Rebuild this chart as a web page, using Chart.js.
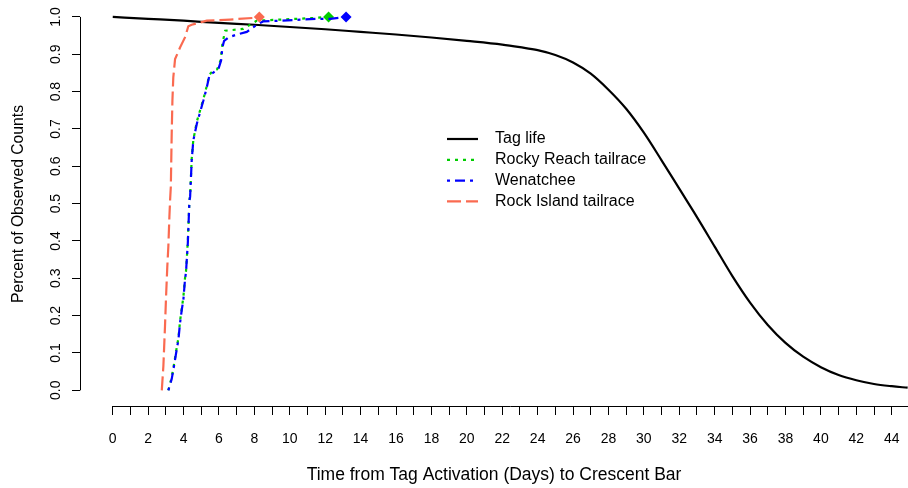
<!DOCTYPE html>
<html>
<head>
<meta charset="utf-8">
<title>Tag life</title>
<script src="https://cdn.jsdelivr.net/npm/chart.js@4.4.1/dist/chart.umd.min.js"></script>
<style>
body{margin:0;background:#fff;}
#wrap{width:908px;height:488px;}
</style>
</head>
<body>
<div id="wrap"><canvas id="chart"></canvas></div>
<script>
// data
var tagDays=[0,2,4,6,8,10,12,14,16,18,20,22,23,24,25,26,27,28,29,30,31,32,33,34,35,36,37,38,39,40,41,42,43,44,44.9];
var tagLife=[1.000,0.995,0.990,0.984,0.979,0.973,0.967,0.960,0.953,0.945,0.936,0.926,0.919,0.911,0.898,0.878,0.848,0.805,0.754,0.690,0.616,0.540,0.464,0.385,0.306,0.235,0.175,0.127,0.090,0.062,0.041,0.027,0.017,0.011,0.007];

var rrDays=[3.14,3.33,3.46,3.58,3.71,3.80,3.90,3.99,4.08,4.14,4.18,4.24,4.29,4.33,4.37,4.46,4.55,4.75,5.12,5.31,5.46,5.60,5.90,6.10,6.20,6.35,7.37,8.14,9.07,11.3,12.19];
var rrVals=[0,0.035,0.07,0.105,0.14,0.185,0.22,0.25,0.30,0.32,0.35,0.40,0.46,0.51,0.52,0.62,0.67,0.72,0.78,0.815,0.845,0.853,0.86,0.885,0.93,0.963,0.968,0.99,0.992,0.997,1.0];

var wenDays=[3.14,3.33,3.46,3.58,3.71,3.80,3.90,3.99,4.08,4.14,4.18,4.24,4.29,4.33,4.37,4.46,4.55,4.75,5.12,5.31,5.46,5.68,5.97,6.12,6.19,6.29,6.53,7.01,7.57,8.14,8.49,10.4,11.5,12.28,13.18];
var wenVals=[0,0.03,0.065,0.10,0.136,0.18,0.216,0.243,0.296,0.318,0.349,0.394,0.456,0.509,0.518,0.616,0.669,0.714,0.776,0.811,0.843,0.851,0.861,0.883,0.918,0.936,0.945,0.953,0.960,0.979,0.988,0.992,0.995,0.995,1.0];

var riDays=[2.77,2.86,2.95,3.01,3.08,3.14,3.20,3.24,3.28,3.33,3.37,3.42,3.52,3.80,4.08,4.27,4.46,4.93,5.31,6.63,8.14,8.28];
var riVals=[0,0.065,0.17,0.25,0.33,0.385,0.465,0.51,0.545,0.687,0.776,0.838,0.887,0.918,0.945,0.975,0.979,0.985,0.99,0.993,0.998,1.0];

var xTicks=[0,1,2,3,4,5,6,7,8,9,10,11,12,13,14,15,16,17,18,19,20,21,22,23,24,25,26,27,28,29,30,31,32,33,34,35,36,37,38,39,40,41,42,43,44];
var yTicks=[0,0.1,0.2,0.3,0.4,0.5,0.6,0.7,0.8,0.9,1.0];
var yTickLabels=['0.0','0.1','0.2','0.3','0.4','0.5','0.6','0.7','0.8','0.9','1.0'];

var FONT='"Liberation Sans", Arial, sans-serif';

function pts(xs,ys){
    var out=[];
    for(var i=0;i<xs.length;i++){out.push({x:xs[i],y:ys[i]});}
    return out;
}

// diamond only on the last point of a curve
function lastOnly(r){
    return function(ctx){return ctx.dataIndex==ctx.dataset.data.length-1?r:0;};
}

// R style axes: lines only between the end ticks, y labels turned upright
var axisLines={
    id:'axisLines',
    beforeDatasetsDraw:function(chart){
        var c=chart.ctx, x=chart.scales.x, y=chart.scales.y, a=chart.chartArea;
        c.save();
        c.strokeStyle='#000';c.lineWidth=1;
        c.beginPath();
        c.moveTo(a.left+0.5,y.getPixelForValue(0));
        c.lineTo(a.left+0.5,y.getPixelForValue(1));
        c.moveTo(x.getPixelForValue(0),a.bottom+0.5);
        c.lineTo(a.right,a.bottom+0.5);
        c.stroke();
        c.fillStyle='#000';
        c.font='14px '+FONT;
        c.textAlign='center';c.textBaseline='middle';
        for(var i=0;i<yTicks.length;i++){
            c.save();
            c.translate(a.left-24,y.getPixelForValue(yTicks[i]));
            c.rotate(-Math.PI/2);
            c.fillText(yTickLabels[i],0,0);
            c.restore();
        }
        c.restore();
    }
};

var boxLegend={
    id:'boxLegend',
    afterDatasetsDraw:function(chart,args,opts){
        var c=chart.ctx;
        c.save();
        c.font=opts.fontSize+'px '+FONT;
        c.textBaseline='middle';
        c.fillStyle='#000';
        chart.data.datasets.forEach(function(ds,i){
            var yy=opts.y+i*opts.rowH;
            c.setLineDash(ds.borderDash||[]);
            c.strokeStyle=ds.borderColor;
            c.lineWidth=ds.borderWidth;
            c.beginPath();
            c.moveTo(opts.x,yy);c.lineTo(opts.x+opts.lineLen,yy);
            c.stroke();
            c.setLineDash([]);
            c.fillText(ds.label,opts.x+opts.lineLen+opts.gap,yy);
        });
        c.restore();
    }
};

var chart=new Chart(document.getElementById('chart'),{
    type:'line',
    data:{datasets:[
        {label:'Tag life',data:pts(tagDays,tagLife),borderColor:'#000000',borderWidth:2.2,
         cubicInterpolationMode:'monotone',pointRadius:0,order:4},
        {label:'Rocky Reach tailrace',data:pts(rrDays,rrVals),borderColor:'#00CD00',backgroundColor:'#00CD00',
         borderWidth:2.2,borderDash:[3,5],pointStyle:'rectRot',pointRadius:lastOnly(5.5),pointBorderWidth:0,order:3},
        {label:'Wenatchee',data:pts(wenDays,wenVals),borderColor:'#0000FF',backgroundColor:'#0000FF',
         borderWidth:2.2,borderDash:[3,5,10,5],pointStyle:'rectRot',pointRadius:lastOnly(5.5),pointBorderWidth:0,order:2},
        {label:'Rock Island tailrace',data:pts(riDays,riVals),borderColor:'#FA6A50',backgroundColor:'#FA6A50',
         borderWidth:2.2,borderDash:[14,5],pointStyle:'rectRot',pointRadius:lastOnly(5.5),pointBorderWidth:0,order:1}
    ]},
    options:{
        responsive:true,maintainAspectRatio:false,animation:false,
        layout:{autoPadding:false,padding:{top:2,right:0,left:0,bottom:0}},
        plugins:{
            legend:{display:false},tooltip:{enabled:false},
            boxLegend:{x:447,y:139,rowH:20.8,lineLen:31,gap:17,fontSize:16}
        },
        scales:{
            x:{type:'linear',min:-1.85,max:44.92,
               grid:{drawOnChartArea:false,drawTicks:true,tickLength:9,color:'#000'},
               border:{display:false},
               afterBuildTicks:function(s){s.ticks=xTicks.map(function(v){return {value:v};});},
               afterFit:function(s){s.height=82;},
               ticks:{autoSkip:false,maxRotation:0,padding:0,color:'#000',font:{family:FONT,size:14,lineHeight:'48px'},
                      callback:function(v){return v%2==0?String(v):'';}},
               title:{display:true,text:'Time from Tag Activation (Days) to Crescent Bar',color:'#000',
                      font:{family:FONT,size:17.5},padding:{top:0,bottom:2}}},
            y:{type:'linear',min:-0.042,max:1.04,
               grid:{drawOnChartArea:false,drawTicks:true,tickLength:8,color:'#000'},
               border:{display:false},
               afterBuildTicks:function(s){s.ticks=yTicks.map(function(v){return {value:v};});},
               afterFit:function(s){s.width=80;},
               ticks:{display:false},
               title:{display:true,text:'Percent of Observed Counts',color:'#000',
                      font:{family:FONT,size:15.7},padding:{top:9,bottom:0}}}
        }
    },
    plugins:[axisLines,boxLegend]
});
</script>
</body>
</html>
